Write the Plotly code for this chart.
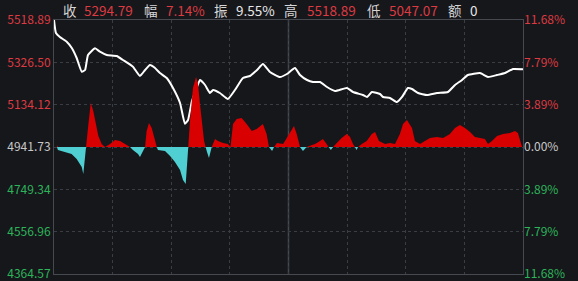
import plotly.graph_objects as go

# ---------------- data ----------------
base_price = 4941.73
price_ticks = [5518.89, 5326.50, 5134.12, 4941.73, 4749.34, 4556.96, 4364.57]
pct_ticks = [11.68, 7.79, 3.89, 0.00, -3.89, -7.79, -11.68]
pct_labels = ["11.68%", "7.79%", "3.89%", "0.00%", "3.89%", "7.79%", "11.68%"]

line_minutes = [0, 1, 3, 6.5, 9.1, 11.6, 14.2, 15.9, 17.4, 21.0, 23.5, 27.0, 32.1, 35.3,
                40.4, 44.0, 46.6, 49.1, 51.7, 54.2, 57.7, 60.9, 64.5, 67.0, 68.6, 70.5,
                73.0, 74.7, 77.3, 79.8, 81.4, 84.9, 89.0, 92.6, 96.7, 100.3, 103.9, 106.9,
                110.5, 115.6, 119.2, 123.3, 125.9, 129.5, 132.5, 136.1, 139.7, 143.8,
                149.9, 153.0, 158.1, 160.2, 162.7, 166.8, 168.4, 171.9, 175.5, 178.1,
                181.1, 183.2, 186.3, 190.9, 196.0, 201.6, 205.2, 208.8, 211.8, 218.0,
                222.1, 226.7, 230.8, 234.9, 240]
line_prices = [5518.89, 5459.8, 5441.6, 5420.3, 5391.7, 5346.2, 5283.9, 5291.7, 5359.8,
               5390.3, 5374.8, 5359.8, 5355.3, 5337.1, 5306.7, 5264.4, 5291.7, 5314.4,
               5300.8, 5278.0, 5255.3, 5209.9, 5141.7, 5047.07, 5064.4, 5147.6, 5209.9,
               5246.2, 5223.5, 5187.1, 5200.8, 5187.1, 5159.9, 5200.8, 5255.3, 5264.4,
               5291.7, 5318.9, 5282.6, 5259.9, 5273.5, 5300.8, 5268.9, 5246.2, 5237.1,
               5237.1, 5214.4, 5196.2, 5209.9, 5191.7, 5178.1, 5169.0, 5191.7, 5182.6,
               5169.0, 5164.4, 5146.2, 5169.0, 5209.9, 5205.3, 5187.1, 5178.1, 5187.1,
               5191.7, 5223.5, 5246.2, 5268.9, 5278.0, 5259.9, 5268.9, 5278.0, 5296.2,
               5294.79]

hist_minutes = [1.5, 2, 9, 11.6, 14.2, 15, 16.4, 17.4, 18.8, 20.1, 21.5, 22.7, 24.4, 26.1,
                28.7, 31.2, 33.8, 36.3, 38.9, 40.4, 43.0, 44.0, 45.5, 46.6, 47.4, 48.6,
                50.0, 51.2, 52.6, 53.2, 56.8, 59.4, 61.9, 64.5, 66.0, 67.4, 68.7, 69.6,
                71.1, 72.7, 73.7, 74.7, 75.7, 76.8, 77.6, 78.3, 79.3, 80.7, 82.4, 83.9,
                86.5, 89.0, 90.3, 91.6, 93.5, 96.0, 98.6, 101.2, 103.7, 106.9, 108.8,
                110.0, 111.6, 112.6, 114.1, 117.2, 118.2, 120.8, 122.8, 124.2, 125.4,
                125.9, 127.4, 129.3, 132.0, 133.6, 136.1, 137.6, 139.5, 140.5, 141.7,
                142.8, 144.7, 147.2, 149.8, 151.5, 153.0, 154.0, 154.8, 155.6, 157.5,
                160.0, 162.6, 164.3, 166.3, 169.4, 171.9, 174.5, 177.0, 178.6, 180.6,
                183.2, 184.7, 187.3, 189.8, 192.4, 196.0, 199.1, 202.6, 205.2, 207.7,
                210.3, 212.9, 215.4, 218.0, 220.5, 222.1, 224.1, 226.7, 229.8, 233.3,
                235.9, 237.4, 239.0, 239.5]
hist_values = [0.18, -0.28, -0.64, -1.10, -1.84, -2.48, 0, 1.75, 4.05, 3.31, 2.21, 1.01,
               0.28, 0, 0.28, 0.64, 0.55, 0.28, 0, -0.28, -0.64, -0.92, -0.46, 0, 1.47,
               2.21, 1.75, 0.83, 0, -0.28, -0.37, -0.83, -1.38, -2.12, -3.04, -3.40, 0,
               2.39, 5.43, 6.44, 5.80, 3.96, 2.12, 0.55, 0, -0.46, -1.01, 0, 0.74, 0.55,
               0.37, 0.28, 0, 2.12, 2.58, 2.67, 2.12, 1.47, 1.66, 2.12, 1.20, 0, -0.37,
               0, 0.37, 0.28, 0.55, 1.29, 1.93, 1.20, 0.28, 0, -0.37, 0, 0.18, 0.28,
               0.55, 0.74, 0.28, 0, -0.28, 0, 0.37, 0.83, 1.20, 0.92, 0.28, 0, -0.28, 0,
               0.28, 0.55, 1.20, 1.38, 0.55, 0.28, 0.37, 0.28, 1.20, 2.12, 2.48, 1.75,
               0.55, 0.28, 0.55, 0.83, 0.92, 0.83, 1.20, 1.75, 2.02, 1.75, 1.38, 0.92,
               0.83, 0.74, 0.28, 0.55, 1.01, 1.20, 1.29, 1.47, 1.29, 0.28, 0]

header_labels = ["收", "幅", "振", "高", "低", "额"]
header_values = ["5294.79", "7.14%", "9.55%", "5518.89", "5047.07", "0"]

# ---------------- style ----------------
BG = "#16171b"
RED = "#dd3a41"
GREEN = "#2db35a"
GRAY = "#c8c8c8"
GRID = "#3a3d43"
FRAME = "#464950"
FONT = "Noto Sans CJK SC, Noto Sans, sans-serif"

def color_for(i):
    return RED if i < 3 else (GRAY if i == 3 else GREEN)

left_text = [f'<span style="color:{color_for(i)}">{v:.2f}</span>' for i, v in enumerate(price_ticks)]
right_text = [f'<span style="color:{color_for(i)}">{t}</span>' for i, t in enumerate(pct_labels)]

pos_vals = [max(v, 0) for v in hist_values]
neg_vals = [min(v, 0) for v in hist_values]

fig = go.Figure()
fig.add_trace(go.Scatter(x=hist_minutes, y=pos_vals, yaxis="y2", mode="lines",
                         line=dict(width=0, color="#d80000"), fill="tozeroy",
                         fillcolor="#d80000", hoverinfo="skip"))
fig.add_trace(go.Scatter(x=hist_minutes, y=neg_vals, yaxis="y2", mode="lines",
                         line=dict(width=0, color="#4fcfd2"), fill="tozeroy",
                         fillcolor="#4fcfd2", hoverinfo="skip"))
fig.add_trace(go.Scatter(x=line_minutes, y=line_prices, mode="lines",
                         line=dict(color="#ffffff", width=2, shape="spline", smoothing=0.4)))

fig.update_layout(
    width=578, height=281,
    margin=dict(l=54, r=55, t=20, b=7),
    paper_bgcolor=BG, plot_bgcolor=BG,
    showlegend=False,
    font=dict(family=FONT, size=12, color=GRAY),
    xaxis=dict(range=[0, 240], tickvals=[0, 30, 60, 90, 120, 150, 180, 210, 240],
               showticklabels=False, showgrid=True, gridcolor=GRID, griddash="dot",
               gridwidth=1, zeroline=False, showline=True, linecolor=FRAME,
               mirror=True, linewidth=1, automargin=False),
    yaxis=dict(range=[price_ticks[-1], price_ticks[0]], tickvals=price_ticks,
               ticktext=left_text, showgrid=True, gridcolor=GRID, griddash="dot",
               zeroline=False, showline=True, linecolor=FRAME, mirror=True,
               ticks="", ticklabeloverflow="allow", automargin=False,
               tickfont=dict(size=12, family=FONT)),
    yaxis2=dict(range=[pct_ticks[-1], pct_ticks[0]], tickvals=pct_ticks,
                ticktext=right_text, overlaying="y", side="right", showgrid=False,
                zeroline=False, ticks="", ticklabeloverflow="allow", automargin=False,
                tickfont=dict(size=12, family=FONT)),
)

# central solid vertical line (midday)
fig.add_shape(type="line", xref="x", yref="paper", x0=120, x1=120, y0=0, y1=1,
              line=dict(color=FRAME, width=1.5), layer="below")

# header
label_px = [61, 142, 212, 282, 365, 446]
value_px = [82, 164, 234, 305, 387, 468]
for i, (lab, val) in enumerate(zip(header_labels, header_values)):
    fig.add_annotation(x=(label_px[i] - 54) / 469, y=(274 - 10) / 254, xref="paper",
                       yref="paper", text=lab, showarrow=False, xanchor="left",
                       yanchor="middle", font=dict(size=13.5, color="#d6d6d6", family=FONT))
    fig.add_annotation(x=(value_px[i] - 54) / 469, y=(274 - 10) / 254, xref="paper",
                       yref="paper", text=val, showarrow=False, xanchor="left",
                       yanchor="middle",
                       font=dict(size=13.5, color=("#e6e6e6" if lab in ("振", "额") else RED),
                                 family=FONT))

fig.write_html("out.html")
